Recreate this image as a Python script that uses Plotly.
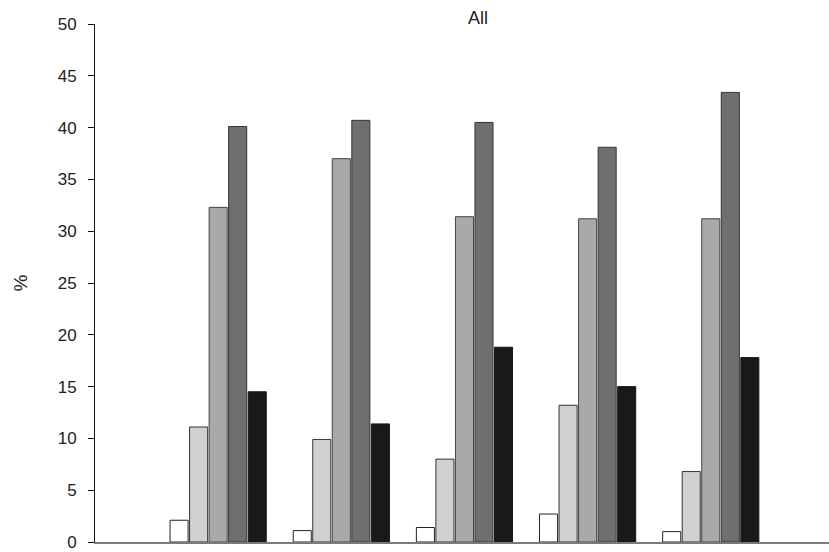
import plotly.graph_objects as go

groups = [1, 2, 3, 4, 5]
series_names = ["S1", "S2", "S3", "S4", "S5"]
s1 = [2.1, 1.1, 1.4, 2.7, 1.0]
s2 = [11.1, 9.9, 8.0, 13.2, 6.8]
s3 = [32.3, 37.0, 31.4, 31.2, 31.2]
s4 = [40.1, 40.7, 40.5, 38.1, 43.4]
s5 = [14.5, 11.4, 18.8, 15.0, 17.8]
y_ticks = [0, 5, 10, 15, 20, 25, 30, 35, 40, 45, 50]

series = [s1, s2, s3, s4, s5]
fills = ["#ffffff", "#d0d0d0", "#a8a9a9", "#6e706f", "#191919"]
lines = ["#222222", "#333333", "#444444", "#333333", "#191919"]

fig = go.Figure()
for name, vals, fc, lc in zip(series_names, series, fills, lines):
    fig.add_trace(go.Bar(x=groups, y=vals, name=name,
                         marker=dict(color=fc, line=dict(color=lc, width=1))))

fig.update_layout(
    width=829, height=552,
    margin=dict(l=95, r=0, t=24, b=10, autoexpand=False),
    paper_bgcolor="white", plot_bgcolor="white",
    barmode="group", bargap=0.207, bargroupgap=0.075,
    showlegend=False,
    font=dict(family="Liberation Sans, Arial, sans-serif", color="#222222", size=17),
    title=dict(text="All", x=478/829, xanchor="center", y=0.968, yanchor="middle",
               font=dict(size=18, color="#222222")),
)
fig.update_xaxes(range=[0, 5.96], showticklabels=False, ticks="", showgrid=False,
                 zeroline=False, showline=True, linecolor="#7a7a7a", linewidth=2,
                 automargin=False)
fig.update_yaxes(range=[0, 50], tickvals=y_ticks, ticks="outside", ticklen=6,
                 tickcolor="#111111", showgrid=False, zeroline=False,
                 showline=True, linecolor="#111111", linewidth=1,
                 ticklabelstandoff=8,
                 title=dict(text="%", standoff=25, font=dict(size=19)),
                 tickfont=dict(size=17), automargin=False)

fig.write_html("out.html", config={"displayModeBar": False},
               post_script="document.body.style.margin='0';document.body.style.overflow='hidden';")
